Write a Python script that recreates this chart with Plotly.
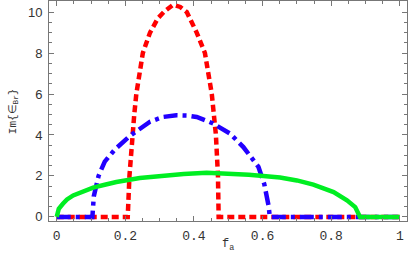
import plotly.graph_objects as go

# Green (solid)
green_x = [0, 0.002, 0.006, 0.018, 0.03, 0.048, 0.075, 0.106, 0.14, 0.174, 0.242, 0.3, 0.37, 0.437, 0.5, 0.56, 0.602, 0.651, 0.7, 0.748, 0.807, 0.846, 0.87, 0.88, 0.884, 1.0]
green_y = [0, 0.2, 0.4, 0.64, 0.85, 1.05, 1.25, 1.43, 1.57, 1.7, 1.9, 2.0, 2.1, 2.15, 2.12, 2.06, 2.0, 1.92, 1.78, 1.58, 1.21, 0.81, 0.48, 0.2, 0, 0]

# Blue (dash-dot)
blue_x = [0, 0.104, 0.108, 0.122, 0.14, 0.17, 0.213, 0.25, 0.272, 0.31, 0.349, 0.38, 0.408, 0.456, 0.505, 0.544, 0.588, 0.605, 0.612, 0.618, 0.621, 1.0]
blue_y = [0, 0, 1.0, 2.0, 2.7, 3.3, 3.95, 4.4, 4.65, 4.88, 4.96, 4.95, 4.88, 4.56, 4.07, 3.41, 2.44, 1.6, 1.13, 0.5, 0, 0]

# Red (dashed)
red_x = [0, 0.207, 0.212, 0.22, 0.226, 0.232, 0.251, 0.272, 0.295, 0.315, 0.339, 0.36, 0.379, 0.408, 0.432, 0.452, 0.464, 0.47, 0.472, 1.0]
red_y = [0, 0, 2.0, 4.0, 5.0, 6.0, 8.0, 9.0, 9.7, 10.05, 10.35, 10.25, 10.0, 9.0, 8.0, 6.0, 4.0, 2.0, 0, 0]

x_ticks = [0, 0.2, 0.4, 0.6, 0.8, 1]
x_tick_labels = ["0", "0.2", "0.4", "0.6", "0.8", "1"]
y_ticks = [0, 2, 4, 6, 8, 10]
y_tick_labels = ["0", "2", "4", "6", "8", "10"]

fig = go.Figure()
fig.add_trace(go.Scatter(x=red_x, y=red_y, mode="lines",
                         line=dict(color="#ff0000", width=4.5, dash="7px,4px")))
fig.add_trace(go.Scatter(x=blue_x, y=blue_y, mode="lines",
                         line=dict(color="#2200ff", width=4.5, dash="14px,5px,4px,5px")))
fig.add_trace(go.Scatter(x=green_x, y=green_y, mode="lines",
                         line=dict(color="#00ee22", width=4.5)))

axis_common = dict(showgrid=False, zeroline=False, showline=True, linecolor="#777777",
                   linewidth=1, mirror="allticks", ticks="inside", tickcolor="#777777",
                   automargin=False)

fig.update_layout(
    width=415, height=257,
    margin=dict(l=49, r=8, t=1, b=36),
    paper_bgcolor="white", plot_bgcolor="white",
    showlegend=False,
    xaxis=dict(range=[-0.0225, 1.021], tickvals=x_ticks, ticktext=x_tick_labels,
               ticklen=5, tickwidth=1,
               minor=dict(dtick=0.05, tick0=0, ticks="inside", ticklen=3, tickcolor="#777777"),
               tickfont=dict(family="Liberation Mono", size=13, color="#333333"),
               ticklabelstandoff=2,
               **axis_common),
    yaxis=dict(range=[-0.2, 10.54], tickvals=y_ticks, ticktext=y_tick_labels,
               ticklen=5, tickwidth=1,
               minor=dict(dtick=0.5, tick0=0, ticks="inside", ticklen=3, tickcolor="#777777"),
               tickfont=dict(family="Liberation Sans", size=13, color="#333333"),
               ticklabelstandoff=3,
               **axis_common),
    annotations=[
        dict(text="f<sub>a</sub>", xref="paper", yref="paper", x=0.5, y=-0.11,
             xanchor="center", yanchor="middle", showarrow=False,
             font=dict(family="Liberation Mono", size=12, color="#333333")),
        dict(text="Im{∈<sub>Br</sub>}", xref="paper", yref="paper", x=-0.10, y=0.5,
             xanchor="center", yanchor="middle", showarrow=False, textangle=-90,
             font=dict(family="Liberation Mono", size=11, color="#333333")),
    ],
)

fig.write_html("out.html", config={"displayModeBar": False},
               post_script="document.body.style.margin='0';")
